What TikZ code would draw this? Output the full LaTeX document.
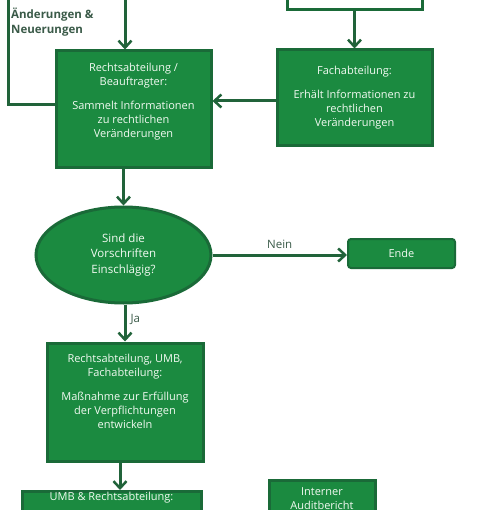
\documentclass[tikz,border=0pt]{standalone}
\usepackage{fontspec}
\setmainfont{Open Sans}
\usepackage{tikz}
\usetikzlibrary{arrows.meta,positioning,calc,shapes.geometric}
\definecolor{FlowGreen}{HTML}{1B8A40}
\definecolor{EdgeGreen}{HTML}{1A6A38}
\definecolor{LineGreen}{HTML}{21633A}
\definecolor{LabelGray}{HTML}{3A5A48}
\definecolor{BoxText}{HTML}{F2FAF2}
\tikzset{
  box/.style={draw=EdgeGreen,line width=3pt,fill=FlowGreen,align=center,
              inner sep=2pt,text=BoxText,font=\fontsize{11}{14}\selectfont},
  endbox/.style={box,rounded corners=3pt,line width=2pt},
  emptybox/.style={draw=EdgeGreen,line width=3pt,fill=white},
  decision/.style={box,ellipse,inner sep=0pt,font=\fontsize{11.5}{15.5}\selectfont},
  boxtext/.style={align=center,inner sep=0pt,text=BoxText,
              font=\fontsize{11}{14}\selectfont},
  flow/.style={-{Straight Barb[length=7pt,width=13pt,line width=2.5pt]},
              line width=3pt,draw=LineGreen},
  plain/.style={line width=3pt,draw=LineGreen},
  note/.style={font=\fontsize{11.5}{14}\selectfont,text=LabelGray,inner sep=0pt}
}

\begin{document}
\begin{tikzpicture}[x=1pt,y=-1pt]
  \useasboundingbox (0,0) rectangle (482,510);
  \clip (0,0) rectangle (482,510);
  \fill[white] (0,0) rectangle (482,510);

  \node[emptybox,minimum width=135pt,minimum height=50pt] (top) at (354.5,-15) {};
  \node[box,minimum width=155pt,minimum height=96pt] (fach) at (354.5,98)
    {Fachabteilung:\\[10pt]Erhält Informationen zu\\rechtlichen\\Veränderungen};
  \node[box,minimum width=155pt,minimum height=117pt] (recht) at (133.5,109.5)
    {Rechtsabteilung /\\Beauftragter:\\[10pt]Sammelt Informationen\\zu rechtlichen\\Veränderungen\\[4pt]};
  \node[decision,minimum width=175pt,minimum height=96pt] (frage) at (123.5,255)
    {Sind die\\Vorschriften\\Einschlägig?};
  \node[endbox,minimum width=107pt,minimum height=29pt] (ende) at (401.5,253.5) {Ende};
  \node[box,minimum width=156pt,minimum height=118pt] (mass) at (125,402)
    {Rechtsabteilung, UMB,\\Fachabteilung:\\[10pt]Maßnahme zur Erfüllung\\der Verpflichtungen\\entwickeln\\[8pt]};
  \node[box,minimum width=179pt,minimum height=80pt,anchor=north] (umb) at (111.5,490) {};
  \node[boxtext,below=2pt of umb.north] (umbtext) {UMB \& Rechtsabteilung:};
  \node[box,minimum width=106pt,minimum height=100pt,anchor=north] (audit) at (322,479) {};
  \node[boxtext,below=8pt of audit.north] (audittext) {Interner\\Auditbericht};

  \coordinate (inTop) at (125,-20);
  \coordinate (loopTop) at (8,-20);
  \node[note,font=\bfseries\fontsize{11.5}{15}\selectfont,align=left,anchor=north west]
    (aend) at (11,8) {Änderungen \&\\Neuerungen};

  \draw[flow] (inTop) -- (inTop |- recht.north);
  \draw[plain] ([yshift=4.5pt]recht.west) -| (loopTop);
  \draw[flow] (top.south) -- (top.south |- fach.north);
  \draw[flow] ([yshift=-3pt]fach.west) -- ([yshift=-3pt]fach.west -| recht.east);
  \draw[flow] (frage.north |- recht.south) -- (frage.north);
  \draw[flow] (frage.east) -- node[note,above=5pt,pos=0.5] (nein) {Nein} (frage.east -| ende.west);
  \draw[flow] ([xshift=1.5pt]frage.south) -- node[note,right=4pt,pos=0.4] (ja) {Ja} ([xshift=1.5pt]frage.south |- mass.north);
  \draw[flow] ([xshift=-5pt]mass.south) -- ([xshift=-5pt]mass.south |- umb.north);
\end{tikzpicture}
\end{document}
